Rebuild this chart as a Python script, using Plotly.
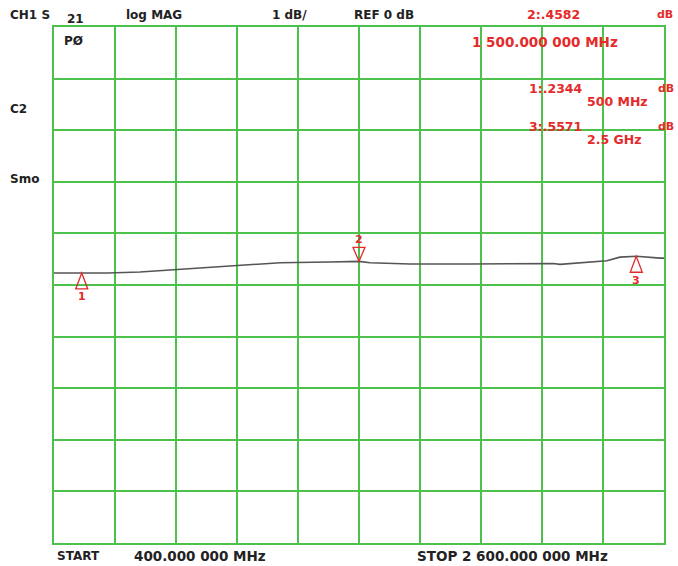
import plotly.graph_objects as go

# ---- data ----
freq_mhz = [400, 500, 595, 710, 818, 890, 1035, 1143, 1215, 1395, 1500, 1540, 1684,
            1900, 2171, 2200, 2225, 2333, 2394, 2441, 2500, 2586, 2600]
s21_db = [0.233, 0.2344, 0.233, 0.252, 0.29, 0.31, 0.374, 0.407, 0.432, 0.446, 0.4582,
          0.432, 0.407, 0.407, 0.407, 0.418, 0.4, 0.446, 0.47, 0.54, 0.5571, 0.52, 0.52]
marker_ids = ["1", "2", "3"]
marker_freq = [500, 1500, 2500]
marker_db = [0.2344, 0.4582, 0.5571]
marker_freq_label = ["500 MHz", "1 500.000 000 MHz", "2.5 GHz"]
start_label = "400.000 000 MHz"
stop_label = "STOP 2 600.000 000 MHz"
x_start, x_stop = 400, 2600
ref_db, scale_db = 0, 1

W, H = 678, 566
L, R, T, B = 54, 14, 27, 23
PW, PH = W - L - R, H - T - B
GREEN = "#4cc24c"
RED = "#e42a2a"
BLACK = "#222222"
FONT = "DejaVu Sans"


def px(x):
    return (x - L) / PW


def py(y):
    return (H - B - y) / PH


fig = go.Figure()
fig.add_trace(go.Scatter(x=freq_mhz, y=s21_db, mode="lines",
                         line=dict(color="#555555", width=1.6), hoverinfo="skip"))

annotations = []


def txt(s, x, y, color=BLACK, size=12, anchor="left"):
    annotations.append(dict(text="<b>%s</b>" % s, x=px(x), y=py(y), xref="paper", yref="paper",
                            xanchor=anchor, yanchor="middle", showarrow=False,
                            font=dict(family=FONT, size=size, color=color)))


txt("CH1 S", 8, 15)
txt("21", 65, 19)
txt("log MAG", 124, 15)
txt("%d dB/" % scale_db, 270, 15)
txt("REF %d dB" % ref_db, 352, 15)
txt("PØ", 62, 41)
txt("C2", 8, 109)
txt("Smo", 8, 179)
txt("START", 55, 556)
txt(start_label, 132, 556, size=13.5)
txt(stop_label, 415, 556, size=13.5)

# marker readouts (active marker 2 on top line)
txt("%s:%s" % (marker_ids[1], ("%.4f" % marker_db[1])[1:]), 525, 15, RED, size=12.5)
txt("dB", 655, 15, RED, size=11)
txt(marker_freq_label[1], 470, 42, RED, size=13.5)
txt("%s:%s" % (marker_ids[0], ("%.4f" % marker_db[0])[1:]), 527, 88, RED, size=12.5)
txt("dB", 656, 88, RED, size=11)
txt(marker_freq_label[0], 585, 101, RED, size=12.5)
txt("%s:%s" % (marker_ids[2], ("%.4f" % marker_db[2])[1:]), 527, 126, RED, size=12.5)
txt("dB", 656, 126, RED, size=11)
txt(marker_freq_label[2], 585, 139, RED, size=12.5)

shapes = []
for i, (mid, f, v) in enumerate(zip(marker_ids, marker_freq, marker_db)):
    if mid == "2":
        path = "M0,0 L-6,14 L6,14 Z"  # inverted triangle above trace
        lab_shift = 22
    else:
        path = "M0,0 L-6,-16 L6,-16 Z"
        lab_shift = -24
    shapes.append(dict(type="path", xref="x", yref="y", xsizemode="pixel", ysizemode="pixel",
                       xanchor=f, yanchor=v, path=path, line=dict(color=RED, width=1.3)))
    annotations.append(dict(text="<b>%s</b>" % mid, x=f, y=v, xref="x", yref="y",
                            yshift=lab_shift, showarrow=False,
                            font=dict(family=FONT, size=11, color=RED)))

# reference level pointer at left edge
shapes.append(dict(type="path", xref="x", yref="y", xsizemode="pixel", ysizemode="pixel",
                   xanchor=x_start, yanchor=ref_db, path="M-2,0 L-7,3 L-7,-3 Z",
                   line=dict(color=GREEN, width=1), fillcolor=GREEN))

fig.update_layout(
    width=W, height=H, margin=dict(l=L, r=R, t=T, b=B), autosize=False,
    paper_bgcolor="white", plot_bgcolor="white", showlegend=False,
    annotations=annotations, shapes=shapes,
    xaxis=dict(range=[x_start, x_stop], dtick=(x_stop - x_start) / 10, tick0=x_start,
               showgrid=True, gridcolor=GREEN, gridwidth=1.5, zeroline=False,
               showticklabels=False, ticks="", showline=True, linecolor=GREEN,
               linewidth=1.5, mirror=True, fixedrange=True),
    yaxis=dict(range=[ref_db - 5 * scale_db, ref_db + 5 * scale_db], dtick=scale_db,
               showgrid=True, gridcolor=GREEN, gridwidth=1.5, zeroline=False,
               showticklabels=False, ticks="", showline=True, linecolor=GREEN,
               linewidth=1.5, mirror=True, fixedrange=True),
)

fig.write_html("out.html", config={"displayModeBar": False},
               post_script="document.body.style.margin='0';document.body.style.overflow='hidden';")
